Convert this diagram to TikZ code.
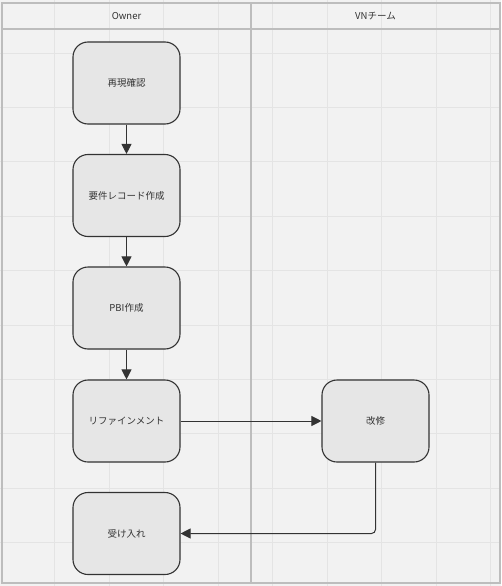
\documentclass[tikz,border=0pt]{standalone}
\usepackage{fontspec}
\setmainfont{Noto Sans CJK JP}
\usetikzlibrary{arrows.meta}
\definecolor{bg}{HTML}{F2F2F2}
\definecolor{gridc}{HTML}{E4E4E4}
\definecolor{lanec}{HTML}{BDBDBD}
\definecolor{boxfill}{HTML}{E6E6E6}
\definecolor{ink}{HTML}{333333}
\tikzset{
  stepbox/.style={draw=ink, fill=boxfill, line width=1.1pt, rounded corners=15pt,
    minimum width=107pt, minimum height=82pt, inner sep=0pt,
    font=\fontsize{9.5}{11}\selectfont, text=ink},
  lanehead/.style={font=\fontsize{9.5}{11}\selectfont, text=ink},
  flow/.style={draw=ink, line width=1pt, -{Triangle[length=10pt,width=10pt]}}
}
\begin{document}
\begin{tikzpicture}[x=1pt,y=-1pt]
\useasboundingbox (0,0) rectangle (501,586);
\fill[bg] (0,0) rectangle (501,586);
% grid
\foreach \gx in {54.5,109,163.5,218,272.5,327,381.5,436,490.5}
  \draw[gridc, line width=0.9pt] (\gx,0) -- (\gx,586);
\foreach \gy in {53,107.4,161.8,216.2,270.6,325,379.4,433.8,488.2,542.6}
  \draw[gridc, line width=0.9pt] (0,\gy) -- (501,\gy);
% lanes
\draw[lanec, line width=1.4pt] (2,3) rectangle (500,583);
\draw[lanec, line width=1.4pt] (2,29) -- (500,29);
\draw[lanec, line width=1.4pt] (251,3) -- (251,583);
\node[lanehead] (h1) at (126.5,16) {Owner};
\node[lanehead] (h2) at (375.5,16) {VNチーム};
% boxes
\node[stepbox] (a) at (126.5,83) {再現確認};
\node[stepbox] (b) at (126.5,195.5) {要件レコード作成};
\node[stepbox] (c) at (126.5,308) {PBI作成};
\node[stepbox] (d) at (126.5,421) {リファインメント};
\node[stepbox] (e) at (126.5,533.5) {受け入れ};
\node[stepbox] (f) at (375.5,421) {改修};
% connectors
\draw[flow] (a) -- (b);
\draw[flow] (b) -- (c);
\draw[flow] (c) -- (d);
\draw[flow] (d) -- (f);
\draw[flow, rounded corners=4pt] (f.south) |- (e.east);
\end{tikzpicture}
\end{document}
